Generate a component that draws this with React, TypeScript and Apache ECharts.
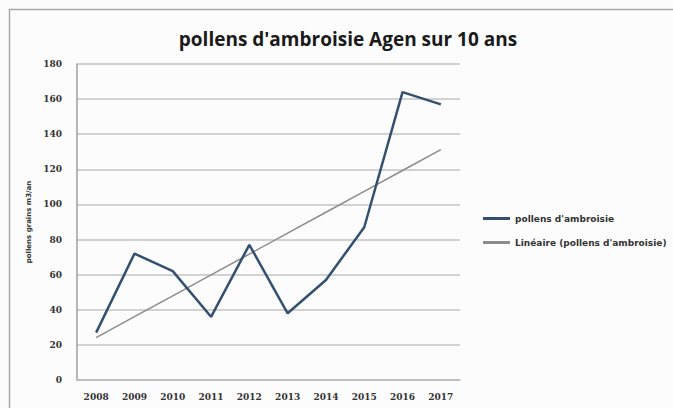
import React, { useEffect, useRef } from "react";
import * as echarts from "echarts";

const years = ["2008", "2009", "2010", "2011", "2012", "2013", "2014", "2015", "2016", "2017"];
const pollens = [27, 72, 62, 36, 77, 38, 57, 87, 164, 157];
const yTicks = { min: 0, max: 180, interval: 20 };
const seriesName = "pollens d'ambroisie";
const trendName = "Linéaire (pollens d'ambroisie)";
const titleText = "pollens d'ambroisie Agen sur 10 ans";
const yAxisName = "pollens grains m3/an";

function linearTrend(vals: number[]): number[] {
  const n = vals.length;
  const mx = (n - 1) / 2;
  const my = vals.reduce((a, b) => a + b, 0) / n;
  let sxy = 0, sxx = 0;
  vals.forEach((v, i) => { sxy += (i - mx) * (v - my); sxx += (i - mx) * (i - mx); });
  const slope = sxy / sxx;
  const icp = my - slope * mx;
  return vals.map((_, i) => +(icp + slope * i).toFixed(2));
}

export default function App() {
  const ref = useRef<HTMLDivElement>(null);
  useEffect(() => {
    if (!ref.current) return;
    const chart = echarts.init(ref.current, undefined, { renderer: "svg" });
    const trend = linearTrend(pollens);
    chart.setOption({
      animation: false,
      backgroundColor: "#fcfcfd",
      title: {
        text: titleText,
        left: 343,
        textAlign: "center",
        top: 24,
        textStyle: { fontFamily: "Open Sans", fontWeight: "bold", fontSize: 19, color: "#1a1a1a" },
      },
      graphic: [
        { type: "line", shape: { x1: 9, y1: 9.5, x2: 673, y2: 9.5 }, style: { stroke: "#a8a8a8", lineWidth: 1.5 } },
        { type: "line", shape: { x1: 9.5, y1: 9, x2: 9.5, y2: 408 }, style: { stroke: "#a8a8a8", lineWidth: 1.5 } },
      ],
      legend: {
        orient: "vertical",
        left: 478,
        top: 209,
        itemWidth: 27,
        itemHeight: 3,
        itemGap: 15,
        textStyle: { fontFamily: "DejaVu Sans", fontSize: 9, fontWeight: "bold", color: "#333" },
        data: [
          { name: seriesName, icon: "rect" },
          { name: trendName, icon: "rect", itemStyle: { color: "#8c8c8c" } },
        ],
      },
      grid: { left: 77, right: 213, top: 64, bottom: 28, containLabel: false },
      xAxis: {
        type: "category",
        data: years,
        boundaryGap: true,
        axisLine: { show: true, lineStyle: { color: "#b8b8b8", width: 1.5 } },
        axisTick: { show: false },
        axisLabel: { margin: 12, fontFamily: "DejaVu Serif", fontSize: 9, color: "#333", fontWeight: "bold" },
      },
      yAxis: {
        type: "value",
        min: yTicks.min,
        max: yTicks.max,
        interval: yTicks.interval,
        name: yAxisName,
        nameLocation: "middle",
        nameGap: 40,
        nameRotate: 90,
        nameTextStyle: { fontFamily: "DejaVu Sans", fontSize: 7, fontWeight: "bold", color: "#333" },
        axisLine: { show: true, lineStyle: { color: "#a0a0a0", width: 1.5 } },
        axisTick: { show: false },
        axisLabel: { margin: 15, fontFamily: "DejaVu Serif", fontSize: 9, color: "#333", fontWeight: "bold" },
        splitLine: { show: true, lineStyle: { color: "#c4c4c4", width: 1.5 } },
      },
      series: [
        {
          name: seriesName,
          type: "line",
          data: pollens,
          symbol: "none",
          lineStyle: { color: "#34506f", width: 2.5 },
          itemStyle: { color: "#34506f" },
          z: 3,
        },
        {
          name: trendName,
          type: "line",
          data: trend,
          symbol: "none",
          lineStyle: { color: "#8c8c8c", width: 1.5 },
          itemStyle: { color: "#8c8c8c" },
          z: 2,
        },
      ],
    });
    return () => chart.dispose();
  }, []);
  return (
    <div
      ref={ref}
      style={{ position: "fixed", left: 0, top: 0, width: 673, height: 408 }}
    />
  );
}
